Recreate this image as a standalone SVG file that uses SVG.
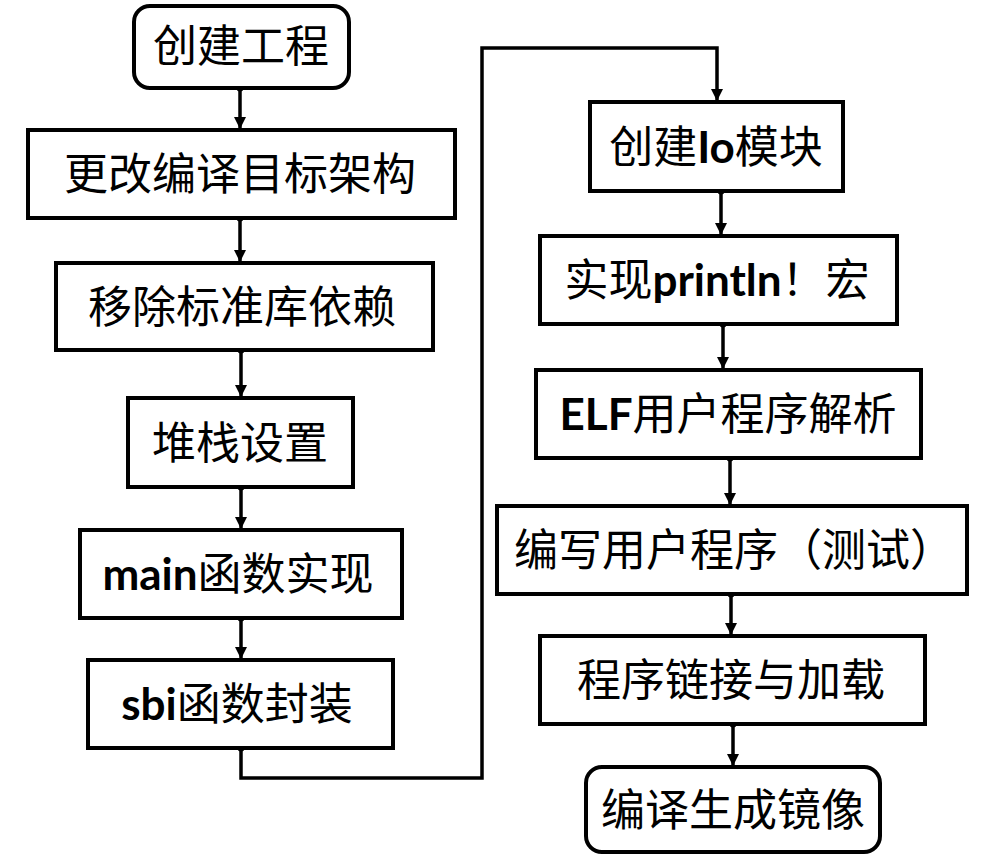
<svg xmlns="http://www.w3.org/2000/svg" width="1008" height="858" viewBox="0 0 1008 858">
<style>
.box{fill:#fff;stroke:#000;stroke-width:4}
.t{font-family:"Noto Sans CJK SC","Noto Sans",sans-serif;font-size:44px;fill:#000;text-anchor:middle}
.b{font-family:"Lato","Noto Sans",sans-serif;font-weight:bold}
.c{fill:none;stroke:#000;stroke-width:3.5}
</style>
<defs>
<marker id="ah" markerWidth="12" markerHeight="12" refX="11" refY="6" orient="auto" markerUnits="userSpaceOnUse" viewBox="0 0 12 12">
<path d="M0,0 L12,6 L0,12 z" fill="#000"/>
</marker>
<marker id="dot" markerWidth="7" markerHeight="7" refX="3.5" refY="3.5" markerUnits="userSpaceOnUse" viewBox="0 0 7 7">
<circle cx="3.5" cy="3.5" r="3.5" fill="#000"/>
</marker>
</defs>
<g id="connectors">
<path class="c" d="M240,88 V128" marker-start="url(#dot)" marker-end="url(#ah)"/>
<path class="c" d="M240,218 V261" marker-start="url(#dot)" marker-end="url(#ah)"/>
<path class="c" d="M241,350 V396" marker-start="url(#dot)" marker-end="url(#ah)"/>
<path class="c" d="M241,487 V528" marker-start="url(#dot)" marker-end="url(#ah)"/>
<path class="c" d="M241,618 V658" marker-start="url(#dot)" marker-end="url(#ah)"/>
<path class="c" d="M241,748 V778 H482 V48 H717 V100" marker-start="url(#dot)" marker-end="url(#ah)"/>
<path class="c" d="M721,191 V234" marker-start="url(#dot)" marker-end="url(#ah)"/>
<path class="c" d="M723,324 V368" marker-start="url(#dot)" marker-end="url(#ah)"/>
<path class="c" d="M730,458 V504" marker-start="url(#dot)" marker-end="url(#ah)"/>
<path class="c" d="M731,594 V634" marker-start="url(#dot)" marker-end="url(#ah)"/>
<path class="c" d="M733,724 V765" marker-start="url(#dot)" marker-end="url(#ah)"/>
</g>
<g id="n1"><rect class="box" x="134" y="6" width="215" height="82" rx="16"/><text class="t" x="241" y="62">创建工程</text></g>
<g id="n2"><rect class="box" x="28" y="130" width="427" height="88"/><text class="t" x="240" y="190">更改编译目标架构</text></g>
<g id="n3"><rect class="box" x="56" y="263" width="377" height="87"/><text class="t" x="242" y="323">移除标准库依赖</text></g>
<g id="n4"><rect class="box" x="128" y="398" width="225" height="89"/><text class="t" x="240" y="459">堆栈设置</text></g>
<g id="n5"><rect class="box" x="80" y="530" width="322" height="88"/><text class="t" x="238" y="590"><tspan class="b">main</tspan>函数实现</text></g>
<g id="n6"><rect class="box" x="88" y="660" width="305" height="88"/><text class="t" x="237" y="720"><tspan class="b">sbi</tspan>函数封装</text></g>
<g id="n7"><rect class="box" x="590" y="102" width="253" height="89"/><text class="t" x="716" y="163">创建<tspan class="b">Io</tspan>模块</text></g>
<g id="n8"><rect class="box" x="540" y="236" width="357" height="88"/><text class="t" x="717" y="296">实现<tspan class="b">println</tspan>！宏</text></g>
<g id="n9"><rect class="box" x="536" y="370" width="385" height="88"/><text class="t" x="728" y="430"><tspan class="b">ELF</tspan>用户程序解析</text></g>
<g id="n10"><rect class="box" x="497" y="506" width="470" height="88"/><text class="t" x="734" y="566">编写用户程序（测试）</text></g>
<g id="n11"><rect class="box" x="540" y="636" width="385" height="88"/><text class="t" x="731" y="696">程序链接与加载</text></g>
<g id="n12"><rect class="box" x="586" y="767" width="294" height="85" rx="16"/><text class="t" x="733" y="826">编译生成镜像</text></g>
</svg>
